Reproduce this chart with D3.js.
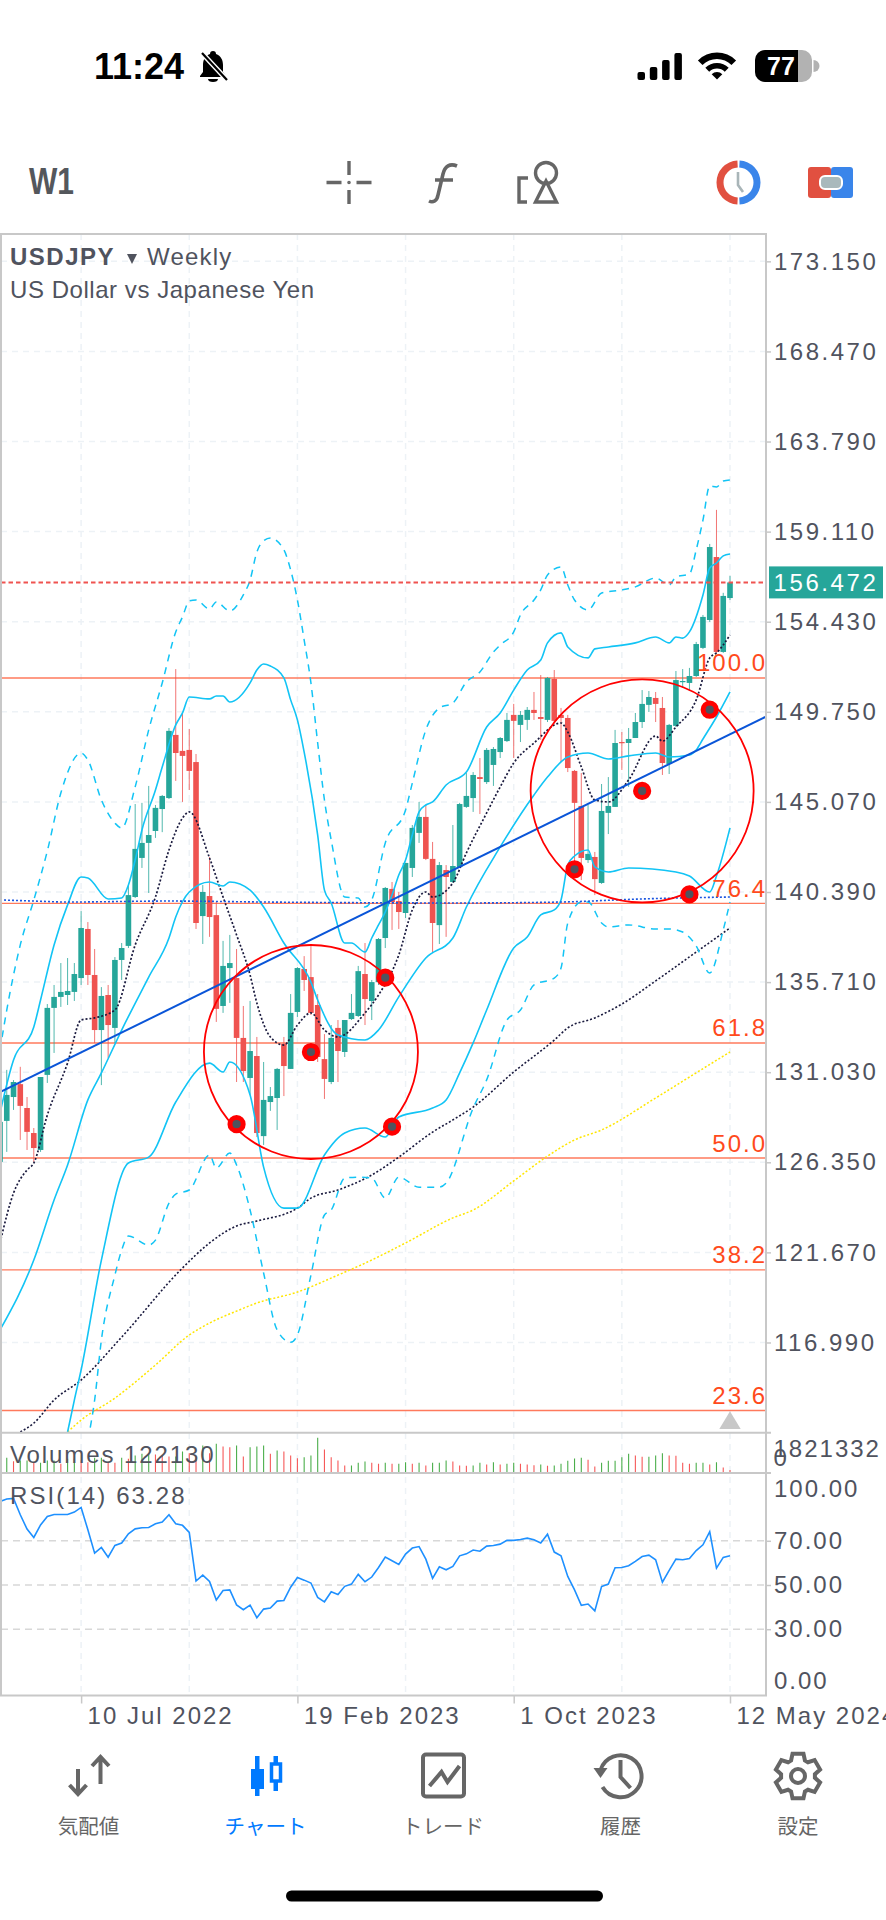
<!DOCTYPE html>
<html>
<head>
<meta charset="utf-8">
<title>USDJPY Weekly</title>
<script src="https://cdnjs.cloudflare.com/ajax/libs/d3/7.8.5/d3.min.js"></script>
<style>
  html, body { margin: 0; padding: 0; background: #fff; }
  svg { display: block; }
  text { font-family: "Liberation Sans", Arial, sans-serif; }
  .axis path { display: none; }
  .axis line { stroke: #c8c8c8; stroke-width: 1.5; }
  .axis text { font-size: 24px; fill: #50535e; letter-spacing: 1.5px; font-family: "Liberation Sans", Arial, sans-serif; }
</style>
</head>
<body>
<svg id="chart" width="886" height="1920"></svg>
<script>
// weekly candles, one value per bar (bar 108 is the week of 12 May 2024)
var opens = [
  126.37,128.50,129.74,130.41,129.17,127.87,126.99,130.89,134.37,134.94,
  135.04,135.20,135.92,138.47,136.08,133.22,135.04,133.33,136.86,137.59,
  140.13,142.16,142.94,143.56,144.70,145.27,148.55,147.72,147.77,147.14,
  139.14,140.18,139.19,134.47,136.44,135.92,132.81,130.73,131.87,127.71,
  129.48,129.69,132.50,131.20,134.16,136.39,135.97,134.52,131.71,130.52,
  133.33,132.08,133.79,133.95,136.13,134.73,135.71,138.00,140.55,139.92,
  139.30,141.64,143.46,144.29,142.11,138.67,141.53,140.91,141.69,144.81,
  145.27,146.36,146.10,146.99,147.66,148.23,149.59,149.07,149.33,149.85,
  149.48,149.33,151.46,149.59,149.43,146.68,144.86,142.05,142.21,140.86,
  144.50,144.81,148.18,148.13,148.39,149.22,150.11,150.47,149.95,147.04,
  149.02,151.30,151.25,151.61,153.07,154.52,157.79,152.86,155.66
];
var highs = [
  129.59,131.15,130.62,131.31,129.74,128.13,130.78,134.57,135.56,136.70,
  136.96,136.70,139.40,138.83,137.43,135.45,135.56,137.01,137.74,140.75,
  144.96,145.02,145.90,144.91,145.43,148.91,151.97,149.69,148.86,147.56,
  140.75,142.21,139.87,137.85,138.16,137.43,134.47,134.73,132.86,131.56,
  130.26,131.25,132.86,135.09,136.49,137.06,137.64,135.09,133.01,133.48,
  133.74,133.74,135.09,136.55,137.74,135.82,138.00,140.65,140.91,140.39,
  141.90,143.87,145.07,144.91,142.99,141.95,141.79,143.87,145.02,146.57,
  146.62,147.35,147.87,147.92,148.44,149.69,150.16,149.79,150.00,150.78,
  151.66,151.56,151.92,149.95,149.59,146.73,146.57,144.91,142.47,146.00,
  146.36,148.81,148.70,148.91,149.69,150.88,150.83,150.78,150.52,149.12,
  151.87,151.97,152.03,153.38,154.78,158.47,160.24,155.93,156.81
];
var lows = [
  126.20,126.89,129.07,127.51,126.99,126.37,126.89,130.47,132.03,134.42,
  134.52,134.73,135.56,135.56,132.55,130.36,131.77,132.55,135.82,137.48,
  140.08,141.64,140.34,143.20,143.50,145.22,146.16,145.07,145.69,138.47,
  137.69,138.06,133.64,134.11,134.63,130.52,130.52,129.85,127.66,127.25,
  129.02,128.03,129.79,131.20,133.90,135.25,134.00,131.56,129.64,130.41,
  130.52,131.82,133.74,133.90,133.48,133.74,135.56,137.48,138.42,138.47,
  139.04,141.17,142.94,142.05,137.22,137.69,138.06,140.86,141.64,144.76,
  144.55,144.44,146.00,145.90,147.35,148.18,147.35,148.18,148.81,149.33,
  148.29,149.22,149.17,147.14,146.62,141.53,141.01,141.90,140.23,140.81,
  143.40,144.81,146.73,145.85,148.39,148.91,149.74,149.22,146.47,146.52,
  148.96,150.99,150.83,151.56,153.01,154.42,152.81,152.81,155.56
];
var closes = [
  128.45,129.85,130.52,129.28,127.93,127.09,130.78,134.37,134.94,135.20,
  135.25,136.13,138.52,136.08,133.22,134.99,133.48,136.86,137.48,140.23,
  142.63,142.94,143.35,144.76,145.38,148.76,147.61,147.46,146.68,138.78,
  140.39,139.09,134.32,136.55,136.70,132.81,131.09,132.13,127.87,129.59,
  129.79,131.20,131.35,134.11,136.44,135.82,134.11,131.82,130.68,132.81,
  132.13,133.74,134.11,136.28,134.83,135.71,137.95,140.60,139.87,139.35,
  141.90,143.72,144.29,142.11,138.78,141.79,141.17,141.74,144.96,145.38,
  146.47,146.26,147.77,147.82,148.39,149.33,149.28,149.59,149.85,149.69,
  149.38,151.51,149.28,149.43,146.83,145.02,142.16,142.37,141.06,144.60,
  144.86,148.13,148.13,148.34,149.22,150.16,150.52,150.16,147.09,149.07,
  151.40,151.35,151.61,153.27,154.68,158.31,152.86,155.77,156.47
];
// tick volume in thousands
var volumes = [
  416,704,544,576,576,464,464,576,576,416,
  656,656,576,496,704,704,496,464,704,656,
  816,896,896,864,816,768,768,1008,928,768,
  1296,928,1376,1248,1216,1296,768,1216,1248,1296,
  896,1056,1008,816,688,736,816,1664,1104,736,
  576,336,336,464,528,464,416,464,416,416,
  496,416,464,336,464,464,576,528,336,320,
  336,464,384,496,384,416,464,416,384,352,
  384,320,336,416,560,672,704,608,288,464,
  560,560,736,896,816,752,752,816,928,816,
  800,464,416,464,464,384,496,240,122
];
var rsiValues = [
  87.8,88.9,89.2,81.8,75.3,71.5,77.2,81.0,81.9,81.9,
  81.9,83.0,85.1,75.0,64.4,67.0,62.6,67.9,69.0,73.2,
  75.4,75.9,76.0,77.7,78.5,81.8,77.7,77.0,73.8,51.8,
  54.5,51.6,43.2,47.5,47.8,41.0,38.8,40.9,35.2,39.1,
  39.6,42.7,43.0,49.0,53.4,52.2,50.9,44.4,42.4,46.9,
  45.7,49.4,50.4,54.8,51.5,53.6,57.9,62.6,61.0,59.3,
  64.0,66.7,67.4,61.7,53.0,58.2,56.9,58.4,63.2,64.1,
  65.8,65.3,67.6,67.9,68.5,70.2,70.2,70.6,71.2,70.5,
  69.0,73.0,64.9,63.2,53.9,47.8,40.8,41.4,38.3,49.3,
  50.4,57.8,57.9,58.7,60.7,62.9,63.5,61.4,51.3,56.6,
  61.7,61.4,62.0,65.6,68.2,74.1,57.6,62.5,63.28
];

// indicator lines as [bar, price]
var bandOuterUpper = [[0,132.18],[1,134.26],[3,137.64],[5,139.97],[7,142.52],[9,145.53],[12,147.61],[13,147.25],[15,145.17],[17,143.97],[18,143.71],[20,145.85],[22,148.81],[24,151.25],[26,153.90],[27,154.68],[28,155.51],[29,155.56],[31,155.09],[32,155.46],[34,154.99],[36,155.82],[37,156.60],[38,158.05],[39,158.63],[40,158.78],[42,158.16],[43,157.12],[44,155.56],[45,153.48],[46,151.25],[47,148.13],[48,145.17],[49,143.09],[51,140.13],[53,140.08],[54,139.61],[55,139.98],[57,142.94],[60,144.65],[61,146.05],[63,148.81],[65,149.95],[67,150.21],[69,151.30],[71,151.82],[73,152.86],[74,153.22],[76,153.90],[77,154.78],[79,155.56],[80,156.08],[81,156.86],[83,157.27],[84,156.34],[85,155.56],[87,155.04],[89,155.92],[92,156.08],[94,156.24],[97,156.70],[99,156.34],[100,156.75],[102,156.91],[103,158.16],[104,159.71],[105,161.48],[106,161.43],[107,161.74],[108,161.79]];
var bandUpper = [[0,128.91],[2,131.66],[5,133.38],[6,134.78],[8,137.64],[10,139.72],[12,141.17],[13,141.12],[16,140.03],[18,140.08],[19,140.75],[20,142.05],[21,143.61],[23,145.69],[24,146.88],[26,149.07],[27,149.69],[28,150.52],[31,150.42],[32,150.57],[33,150.57],[34,150.26],[37,151.25],[38,151.92],[39,152.23],[40,152.13],[42,151.51],[43,150.37],[44,149.33],[45,147.66],[47,143.35],[48,140.49],[49,139.82],[51,137.74],[52,137.74],[54,137.27],[55,138.00],[56,138.68],[57,139.35],[58,140.23],[59,141.27],[60,142.05],[61,143.35],[62,144.55],[63,144.91],[64,145.07],[66,145.95],[69,146.62],[72,148.96],[74,149.69],[76,150.88],[78,151.92],[80,152.44],[81,153.33],[83,153.85],[84,153.12],[87,152.55],[88,153.02],[90,153.12],[94,153.33],[97,153.64],[99,153.33],[100,153.64],[101,153.58],[102,153.90],[104,155.82],[105,157.22],[106,157.48],[107,157.85],[108,157.95]];
var bandMiddle = [[0,117.64],[5,121.27],[8,124.39],[10,126.21],[13,129.59],[15,130.99],[18,133.22],[22,135.97],[25,138.00],[26,139.09],[28,140.39],[31,140.91],[33,140.70],[34,140.91],[37,140.49],[39,139.61],[42,137.74],[46,135.71],[47,134.78],[50,132.96],[54,132.70],[56,133.22],[59,134.94],[63,136.96],[67,138.00],[69,139.61],[74,142.73],[79,145.43],[81,146.36],[84,147.40],[87,147.61],[90,147.30],[93,147.46],[97,147.61],[99,147.40],[102,147.51],[103,147.77],[104,148.34],[106,149.48],[108,150.78]];
var bandLower = [[10,112.34],[11,114.00],[12,115.56],[15,121.27],[19,126.31],[22,126.62],[26,129.48],[31,131.50],[33,131.04],[34,131.56],[37,129.85],[39,126.10],[42,123.97],[44,123.97],[48,126.73],[51,127.87],[54,128.13],[57,127.66],[59,128.70],[64,129.17],[66,129.59],[68,130.99],[70,132.55],[72,134.26],[76,137.48],[78,138.05],[80,139.20],[82,139.46],[83,139.98],[84,141.79],[85,142.26],[87,142.57],[88,141.69],[90,141.43],[93,141.64],[100,141.43],[102,141.22],[105,140.39],[106,141.22],[108,143.72]];
var bandOuterLower = [[13,111.92],[14,114.00],[15,117.12],[17,120.49],[18,121.79],[19,122.52],[22,122.05],[23,122.31],[25,124.23],[26,124.70],[28,124.91],[31,126.73],[32,126.05],[34,126.83],[35,126.21],[37,123.87],[39,120.60],[41,117.64],[43,117.00],[44,117.38],[46,120.49],[48,123.61],[49,123.87],[51,125.53],[53,125.58],[55,125.53],[57,124.49],[59,125.58],[62,125.06],[65,125.06],[66,125.27],[70,129.17],[72,130.63],[75,133.74],[77,134.26],[79,135.56],[82,135.92],[83,136.44],[84,138.78],[86,139.87],[87,139.87],[89,138.78],[90,138.57],[93,138.68],[97,138.47],[99,138.47],[101,138.31],[103,137.59],[105,136.18],[107,138.42],[108,139.87]];
var maShort = [[0,122.16],[2,124.75],[4,125.95],[5,126.31],[7,128.80],[10,131.51],[12,133.74],[14,133.85],[17,134.26],[20,137.64],[23,140.13],[25,142.57],[27,144.23],[28,144.55],[31,142.16],[33,140.13],[35,138.16],[37,136.08],[38,134.62],[40,132.86],[42,132.44],[44,133.48],[46,134.11],[48,133.22],[50,132.86],[54,134.11],[56,135.04],[59,137.12],[61,139.46],[63,140.39],[64,140.13],[67,140.86],[69,142.42],[72,144.50],[74,145.85],[76,147.09],[79,148.13],[83,149.17],[84,148.70],[86,146.89],[88,145.17],[90,145.07],[93,146.21],[97,148.49],[98,148.23],[100,148.96],[103,150.37],[105,152.55],[106,152.81],[108,153.74]];
var maLong = [[3,112.34],[5,112.80],[8,114.00],[12,115.04],[18,117.27],[27,120.86],[31,122.16],[35,123.04],[38,123.30],[44,123.97],[46,124.49],[50,124.91],[55,125.69],[59,126.62],[64,127.92],[67,128.55],[70,129.22],[76,131.04],[82,132.70],[84,133.33],[88,133.85],[92,134.57],[97,135.77],[102,137.02],[108,138.52]];
var maSlowest = [[10,112.34],[12,112.96],[17,114.10],[23,115.82],[28,117.38],[31,118.00],[35,118.62],[38,119.04],[44,119.61],[50,120.49],[54,121.11],[60,122.16],[67,123.46],[70,123.87],[76,125.38],[81,126.67],[85,127.51],[89,128.03],[97,129.69],[102,130.78],[108,132.08]];
var blueDotted = [[0,139.98],[5,139.92],[10,139.87],[25,139.92],[39,139.87],[68,139.82],[83,139.87],[95,140.03],[108,140.13]];
var trendLine = [[0,129.99],[113.2,149.48]];

var priceTicks = [173.15,168.47,163.79,159.11,154.43,149.75,145.07,140.39,135.71,131.03,126.35,121.67,116.99];
var fibLevels = [151.51,139.80,132.55,126.57,120.76,113.46];
var fibLabels = ["100.0","76.4","61.8","50.0","38.2","23.6"];
var gridBars = [12,28,44,60,76,92,108];
var dateBars = [12,44,76,108];
var dateLabels = ["10 Jul 2022","19 Feb 2023","1 Oct 2023","12 May 2024"];
var rsiTicks = [100,70,50,30,0];
var rsiGuides = [70,50,30];
var lastPrice = 156.472;
var lastVolume = "122130";
var lastRsi = "63.28";
var volumeMax = 1821.332;

// drawn points and the two hand drawn circles: [bar, price]
var markers = [[35,128.33],[58,128.20],[57,135.94],[46,132.08],[85,141.57],[105,149.86],[102,140.27],[95,145.64]];
var circleCentres = [[46,132.08],[95,145.64]];
var navLabels = ["気配値","チャート","トレード","履歴","設定"];

var UP = "#26a69a", DOWN = "#ef5350", TEXT = "#50535e", ICON = "#666666", BORDER = "#c8c8c8", GRID = "#edf2f6";
var LEFT = 1, RIGHT = 766, TOP = 234, MAIN_BOTTOM = 1432, VOL_BOTTOM = 1472.5, RSI_BOTTOM = 1695.5;

var svg = d3.select("#chart");
var x = d3.scaleLinear().domain([0, 108]).range([0, 730]);
var y = d3.scaleLinear().domain([174.57, 112.34]).range([TOP, MAIN_BOTTOM]);
var yVol = d3.scaleLinear().domain([0, volumeMax]).range([VOL_BOTTOM, 1434.5]);
var yRsi = d3.scaleLinear().domain([0, 100]).range([RSI_BOTTOM, 1474.5]);

var defs = svg.append("defs");
function addClip(id, y0, y1) {
  defs.append("clipPath").attr("id", id).append("rect")
    .attr("x", LEFT).attr("y", y0).attr("width", RIGHT - LEFT).attr("height", y1 - y0);
}
addClip("clip-main", TOP, MAIN_BOTTOM);
addClip("clip-vol", MAIN_BOTTOM, VOL_BOTTOM);
addClip("clip-rsi", VOL_BOTTOM, RSI_BOTTOM);

// ---- grid ----
var grid = svg.append("g").attr("fill", "none").attr("stroke", GRID).attr("stroke-width", 1.5).attr("stroke-dasharray", "6 5");
grid.selectAll("line.h").data(priceTicks).enter().append("line").attr("class", "h")
  .attr("x1", LEFT).attr("x2", RIGHT)
  .attr("y1", function(d) { return y(d); }).attr("y2", function(d) { return y(d); });
grid.selectAll("line.v").data(gridBars).enter().append("line").attr("class", "v")
  .attr("x1", function(d) { return x(d); }).attr("x2", function(d) { return x(d); })
  .attr("y1", TOP).attr("y2", RSI_BOTTOM);

// ---- main panel ----
var main = svg.append("g").attr("clip-path", "url(#clip-main)");

main.selectAll("line.fib").data(fibLevels).enter().append("line").attr("class", "fib")
  .attr("x1", LEFT).attr("x2", RIGHT)
  .attr("y1", function(d) { return y(d); }).attr("y2", function(d) { return y(d); })
  .attr("stroke", "#ff7a5c").attr("stroke-width", 1.4);

var bars = d3.range(opens.length);
var candle = main.append("g").selectAll("g").data(bars).enter().append("g")
  .attr("fill", function(i) { return closes[i] >= opens[i] ? UP : DOWN; })
  .attr("stroke", function(i) { return closes[i] >= opens[i] ? UP : DOWN; });
candle.append("line")
  .attr("x1", function(i) { return x(i); }).attr("x2", function(i) { return x(i); })
  .attr("y1", function(i) { return y(highs[i]); }).attr("y2", function(i) { return y(lows[i]); })
  .attr("stroke-width", 1).attr("stroke-opacity", 0.8);
candle.append("rect")
  .attr("stroke", "none")
  .attr("x", function(i) { return x(i) - 2.8; }).attr("width", 5.6)
  .attr("y", function(i) { return y(Math.max(opens[i], closes[i])); })
  .attr("height", function(i) { return Math.max(1.2, Math.abs(y(opens[i]) - y(closes[i]))); });

var priceLine = d3.line().x(function(d) { return x(d[0]); }).y(function(d) { return y(d[1]); }).curve(d3.curveMonotoneX);
function drawLine(data, color, width, dash) {
  main.append("path").attr("d", priceLine(data)).attr("fill", "none")
    .attr("stroke", color).attr("stroke-width", width).attr("stroke-dasharray", dash || null);
}
drawLine(maSlowest, "#ffe600", 1.5, "2 2");
drawLine(maLong, "#1a1a3e", 1.6, "2 2");
drawLine(maShort, "#1a1a3e", 1.7, "2 2");
drawLine(bandOuterUpper, "#12c4f5", 1.5, "7 6");
drawLine(bandOuterLower, "#12c4f5", 1.5, "7 6");
drawLine(bandUpper, "#12c4f5", 1.6);
drawLine(bandMiddle, "#12c4f5", 1.6);
drawLine(bandLower, "#12c4f5", 1.6);
drawLine(blueDotted, "#1a55e0", 1.6, "2 2");
drawLine(trendLine, "#0a55d8", 2);

main.append("line").attr("x1", LEFT).attr("x2", RIGHT).attr("y1", y(lastPrice)).attr("y2", y(lastPrice))
  .attr("stroke", "#ef5350").attr("stroke-width", 2).attr("stroke-dasharray", "4.5 3");

main.selectAll("circle.ring").data(circleCentres).enter().append("circle").attr("class", "ring")
  .attr("cx", function(d) { return x(d[0]); }).attr("cy", function(d) { return y(d[1]); })
  .attr("r", function(d, i) { return i ? 111.5 : 107; })
  .attr("fill", "none").attr("stroke", "#f00").attr("stroke-width", 1.8);
main.selectAll("circle.marker").data(markers).enter().append("circle").attr("class", "marker")
  .attr("cx", function(d) { return x(d[0]); }).attr("cy", function(d) { return y(d[1]); })
  .attr("r", 6.6).attr("fill", "#50535e").attr("stroke", "#f00").attr("stroke-width", 5);

// last bar marker at the foot of the main panel
main.append("path").attr("fill", BORDER)
  .attr("d", d3.symbol().type(d3.symbolTriangle).size(150))
  .attr("transform", "translate(" + x(108) + "," + (MAIN_BOTTOM - 9) + ") scale(1.15,1.1)");

svg.selectAll("text.fib").data(fibLabels).enter().append("text").attr("class", "fib")
  .attr("x", 767).attr("y", function(d, i) { return y(fibLevels[i]) - 6.5; })
  .attr("text-anchor", "end").attr("font-size", 24).attr("letter-spacing", 2)
  .attr("fill", "#ff4a1c").text(function(d) { return d; });

// ---- volumes ----
svg.append("g").attr("clip-path", "url(#clip-vol)").selectAll("line").data(volumes).enter().append("line")
  .attr("x1", function(d, i) { return x(i); }).attr("x2", function(d, i) { return x(i); })
  .attr("y1", yVol(0)).attr("y2", function(d) { return yVol(d); })
  .attr("stroke-width", 1.1)
  .attr("stroke", function(d, i) { return i === 0 || d >= volumes[i - 1] ? "#2ca02c" : "#f53b3b"; })
  .attr("stroke-opacity", 0.85);

// ---- rsi ----
var rsiPanel = svg.append("g").attr("clip-path", "url(#clip-rsi)");
rsiPanel.selectAll("line").data(rsiGuides).enter().append("line")
  .attr("x1", LEFT).attr("x2", RIGHT)
  .attr("y1", function(d) { return yRsi(d); }).attr("y2", function(d) { return yRsi(d); })
  .attr("stroke", "#d8d8d8").attr("stroke-width", 1.4).attr("stroke-dasharray", "7 5");
rsiPanel.append("path").attr("fill", "none").attr("stroke", "#1e90ff").attr("stroke-width", 1.6)
  .attr("d", d3.line().x(function(d, i) { return x(i); }).y(function(d) { return yRsi(d); })(rsiValues));

// ---- frames ----
var frames = svg.append("g").attr("stroke", BORDER).attr("stroke-width", 2).attr("fill", "none");
frames.append("rect").attr("x", 1).attr("y", TOP).attr("width", RIGHT - 1).attr("height", RSI_BOTTOM - TOP);
frames.append("line").attr("x1", 0).attr("x2", RIGHT + 5).attr("y1", MAIN_BOTTOM + 0.7).attr("y2", MAIN_BOTTOM + 0.7);
frames.append("line").attr("x1", 0).attr("x2", RIGHT + 5).attr("y1", VOL_BOTTOM + 0.5).attr("y2", VOL_BOTTOM + 0.5);

// ---- axes ----
var priceAxis = svg.append("g").attr("class", "axis").attr("transform", "translate(" + RIGHT + ",0)")
  .call(d3.axisRight(y).tickValues(priceTicks).tickSize(5).tickPadding(3).tickFormat(d3.format(".3f")));
priceAxis.selectAll("text").attr("dy", "0.32em").style("letter-spacing", "2.5px");

var rsiAxis = svg.append("g").attr("class", "axis").attr("transform", "translate(" + RIGHT + ",0)")
  .call(d3.axisRight(yRsi).tickValues(rsiTicks).tickSize(5).tickPadding(3).tickFormat(d3.format(".2f")));
rsiAxis.selectAll("text").attr("dy", "0.32em").style("letter-spacing", "2px")
  .attr("transform", function(d) { return d === 100 ? "translate(0,14.5)" : d === 0 ? "translate(0,-14.5)" : null; });
rsiAxis.selectAll("line").attr("display", function(d) { return d === 100 || d === 0 ? "none" : null; });

var dateAxis = svg.append("g").attr("class", "axis").attr("transform", "translate(0," + RSI_BOTTOM + ")")
  .call(d3.axisBottom(x).tickValues(dateBars).tickSize(8).tickPadding(4).tickFormat(function(d, i) { return dateLabels[i]; }));
dateAxis.selectAll("text").attr("text-anchor", "start").attr("x", 6).attr("y", 9).attr("dy", "0.8em").style("letter-spacing", "2px");

var volLabels = svg.append("g").attr("font-size", 24).attr("fill", TEXT).attr("letter-spacing", 1.5);
volLabels.append("text").attr("x", 773.5).attr("y", 1457).attr("letter-spacing", 2).text(Math.round(volumeMax * 1000));
volLabels.append("text").attr("x", 773.5).attr("y", 1465.5).text("0");
volLabels.append("text").attr("x", 10).attr("y", 1463).attr("letter-spacing", 1.9).text("Volumes " + lastVolume);
volLabels.append("text").attr("x", 10).attr("y", 1504).attr("letter-spacing", 2.1).text("RSI(14) " + lastRsi);

// last price tag
svg.append("rect").attr("x", 769).attr("y", y(lastPrice) - 16).attr("width", 114).attr("height", 32).attr("fill", UP);
svg.append("text").attr("x", 773.5).attr("y", y(lastPrice) + 8.5).attr("font-size", 24).attr("letter-spacing", 2.6)
  .attr("fill", "#fff").text(d3.format(".3f")(lastPrice));

// symbol caption
var caption = svg.append("g").attr("fill", TEXT).attr("font-size", 24);
caption.append("text").attr("x", 10).attr("y", 265).attr("font-weight", "bold").attr("letter-spacing", 1.5).text("USDJPY");
caption.append("path").attr("d", "M127 254h10l-5 10z");
caption.append("text").attr("x", 147).attr("y", 265).attr("letter-spacing", 1.2).text("Weekly");
caption.append("text").attr("x", 10).attr("y", 298).attr("letter-spacing", 0.55).text("US Dollar vs Japanese Yen");

// ---- status bar ----
var statusBar = svg.append("g");
statusBar.append("text").attr("x", 94).attr("y", 79).attr("font-size", 36).attr("font-weight", "bold").attr("fill", "#000").text("11:24");
var bell = statusBar.append("g").attr("fill", "#000");
bell.append("path").attr("d", "M213 51c2 0 3 1 3 3c5 2 7 6 7 11v7l3 4v1h-26v-1l3-4v-7c0-5 2-9 7-11c0-2 1-3 3-3zM208 79h10c0 2-2 3-5 3s-5-1-5-3z");
bell.append("line").attr("x1", 201).attr("y1", 52).attr("x2", 228).attr("y2", 81).attr("stroke", "#fff").attr("stroke-width", 5);
bell.append("line").attr("x1", 202).attr("y1", 53).attr("x2", 227).attr("y2", 80).attr("stroke", "#000").attr("stroke-width", 2.2);
statusBar.selectAll("rect.signal").data([8, 13, 20, 27]).enter().append("rect").attr("class", "signal")
  .attr("x", function(d, i) { return 637.5 + i * 12.3; }).attr("width", 7.5).attr("rx", 2)
  .attr("y", function(d) { return 80 - d; }).attr("height", function(d) { return d; });
var wifiArc = d3.arc().startAngle(-Math.PI / 4).endAngle(Math.PI / 4);
[[20.5, 27], [11, 16.5], [0, 7.5]].forEach(function(r) {
  statusBar.append("path").attr("transform", "translate(717,79.5)")
    .attr("d", wifiArc({ innerRadius: r[0], outerRadius: r[1] })).attr("fill", "#000");
});
statusBar.append("rect").attr("x", 755).attr("y", 50).attr("width", 57).attr("height", 32).attr("rx", 10).attr("fill", "#b2b2b2");
statusBar.append("path").attr("d", "M765 50h33v32h-33a10 10 0 0 1-10-10v-12a10 10 0 0 1 10-10z").attr("fill", "#000");
statusBar.append("path").attr("d", "M813.5 60a6 6 0 0 1 0 12z").attr("fill", "#b2b2b2");
statusBar.append("text").attr("x", 781).attr("y", 75).attr("text-anchor", "middle").attr("font-size", 25).attr("font-weight", "bold").attr("fill", "#fff").text("77");

// ---- toolbar ----
var toolbar = svg.append("g");
toolbar.append("text").attr("x", 29).attr("y", 194).attr("font-size", 36).attr("font-weight", "bold").attr("fill", "#54575c")
  .attr("textLength", 45).attr("lengthAdjust", "spacingAndGlyphs").text("W1");
var tools = toolbar.append("g").attr("fill", "none").attr("stroke", ICON).attr("stroke-width", 3.4);
tools.append("path").attr("d", "M349 161v14M349 190v14M326.5 182.5h15M356.5 182.5h15");
tools.append("circle").attr("cx", 349).attr("cy", 182.5).attr("r", 1).attr("stroke-width", 1.6);
tools.append("path").attr("d", "M457 166c-7-3-12 0-14 8l-5 21c-1 6-5 8-9 6M435 180h18").attr("stroke-width", 3.6);
tools.append("circle").attr("cx", 546).attr("cy", 173).attr("r", 10.5);
tools.append("path").attr("d", "M546 181l10.5 21h-21zM528 178h-9v24h8");
toolbar.append("path").attr("d", d3.arc()({ innerRadius: 15, outerRadius: 22, startAngle: Math.PI + 0.05, endAngle: 2 * Math.PI - 0.05 }))
  .attr("transform", "translate(738.5,182.5)").attr("fill", "#e15040");
toolbar.append("path").attr("d", d3.arc()({ innerRadius: 15, outerRadius: 22, startAngle: 0.05, endAngle: Math.PI - 0.05 }))
  .attr("transform", "translate(738.5,182.5)").attr("fill", "#3a85ea");
toolbar.append("path").attr("d", "M738 172v13l5 7").attr("fill", "none").attr("stroke", "#a9b5b8").attr("stroke-width", 2.6);
toolbar.append("rect").attr("x", 808).attr("y", 167).attr("width", 23).attr("height", 31).attr("rx", 3).attr("fill", "#e15040");
toolbar.append("rect").attr("x", 831).attr("y", 167).attr("width", 22).attr("height", 31).attr("rx", 3).attr("fill", "#3a85ea");
toolbar.append("rect").attr("x", 820).attr("y", 176).attr("width", 22).attr("height", 13).attr("rx", 5).attr("fill", "#a9b9bc").attr("stroke", "#fff").attr("stroke-width", 2);

// ---- bottom navigation ----
var nav = svg.append("g");
var navX = [88.5, 265.5, 443, 620.5, 798];
nav.selectAll("text").data(navLabels).enter().append("text")
  .attr("x", function(d, i) { return navX[i]; }).attr("y", 1834)
  .attr("text-anchor", "middle").attr("font-size", 20.5).style("font-family", '"Noto Sans CJK JP"')
  .attr("fill", function(d, i) { return i === 1 ? "#007aff" : ICON; }).text(function(d) { return d; });

var arrows = nav.append("g").attr("fill", "none").attr("stroke", ICON).attr("stroke-width", 4);
arrows.append("path").attr("d", "M78 1769v24M69.5 1785l8.5 9l8.5-9");
arrows.append("path").attr("d", "M100.5 1758v26M92 1766l8.5-9l8.5 9");

var active = nav.append("g").attr("fill", "#007aff");
active.append("rect").attr("x", 255).attr("y", 1756).attr("width", 4.5).attr("height", 40);
active.append("rect").attr("x", 251).attr("y", 1769).attr("width", 13).attr("height", 20);
active.append("rect").attr("x", 273.5).attr("y", 1756).attr("width", 4.5).attr("height", 35);
active.append("rect").attr("x", 271.5).attr("y", 1764).attr("width", 9).attr("height", 17).attr("fill", "#fff").attr("stroke", "#007aff").attr("stroke-width", 3.5);

var trade = nav.append("g").attr("fill", "none").attr("stroke", ICON).attr("stroke-width", 4);
trade.append("rect").attr("x", 423).attr("y", 1754.5).attr("width", 41).attr("height", 42).attr("rx", 3);
trade.append("path").attr("d", "M429.5 1786l12-14l6 10l12-16");

var hist = nav.append("g").attr("fill", "none").attr("stroke", ICON).attr("stroke-width", 4);
hist.append("path").attr("d", "M600.5 1770a21 21 0 1 1 2 17");
hist.append("path").attr("d", "M620.5 1760v17l10 11");
nav.append("path").attr("d", "M593.5 1768h14l-7 10z").attr("fill", ICON);

// gear outline from six teeth
var gearPts = [];
d3.range(6).forEach(function(k) {
  var a = k * Math.PI / 3;
  [[-0.42, 17], [-0.24, 23], [0.24, 23], [0.42, 17]].forEach(function(t) {
    gearPts.push([798 + t[1] * Math.sin(a + t[0]), 1776 - t[1] * Math.cos(a + t[0])]);
  });
});
var gear = nav.append("g").attr("fill", "none").attr("stroke", ICON).attr("stroke-width", 4);
gear.append("path").attr("d", d3.line().curve(d3.curveLinearClosed)(gearPts));
gear.append("circle").attr("cx", 798).attr("cy", 1776).attr("r", 7);

svg.append("rect").attr("x", 286).attr("y", 1890.5).attr("width", 317).attr("height", 11).attr("rx", 5.5).attr("fill", "#000");
</script>
</body>
</html>
